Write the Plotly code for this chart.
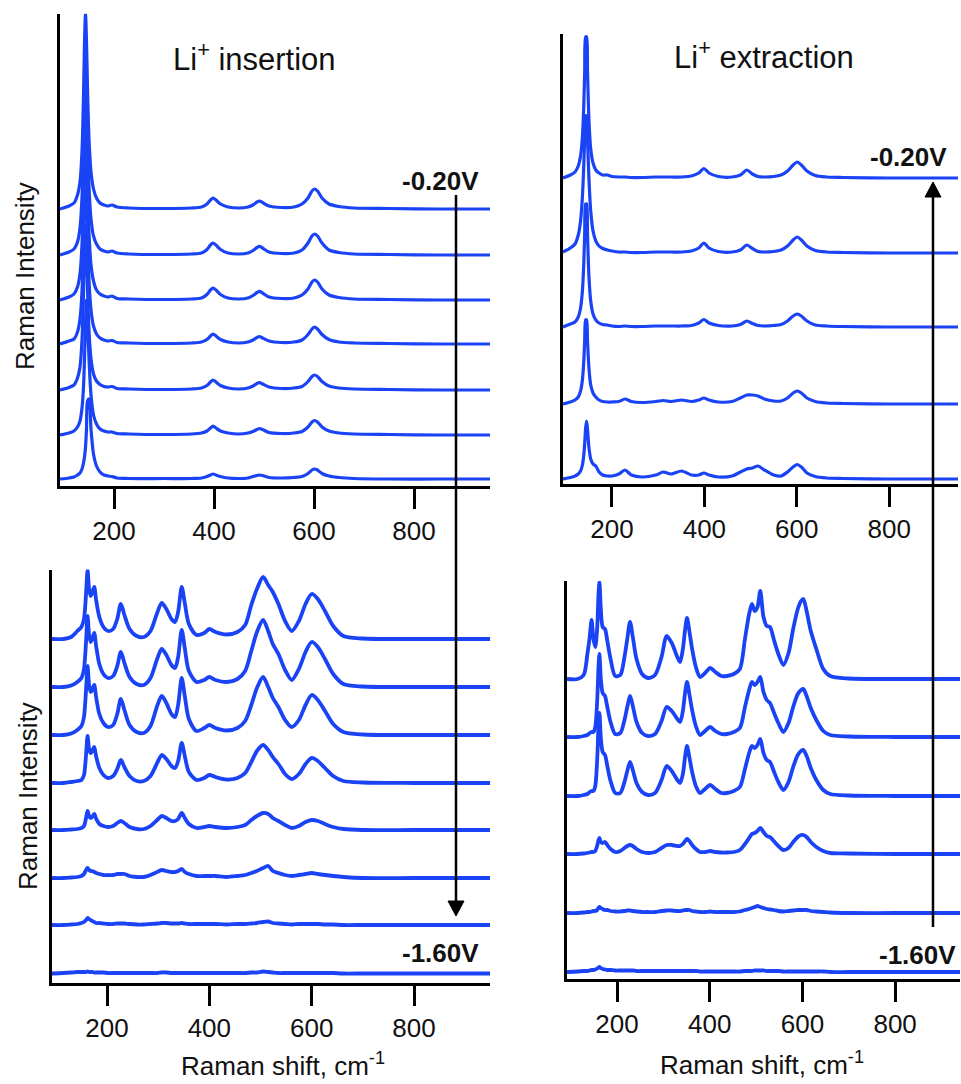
import plotly.graph_objects as go

W, H = 961, 1084
BLUE = '#1a43f5'
FONT = 'Liberation Sans, Arial, sans-serif'

# ---------------- Top-left: Li+ insertion (upper part) ----------------
TL_POT = ['-0.20 V', '-0.30 V', '-0.40 V', '-0.50 V', '-0.60 V', '-0.70 V', '-0.80 V']
TL_X = [92, 110, 120, 127, 132, 136, 139, 141, 143, 145, 147, 150, 154, 159, 165, 172, 180, 188, 196, 206,
        230, 300, 355, 375, 386, 393, 398, 404, 413, 428, 450, 468, 478, 486, 491, 497, 510, 535, 560, 576,
        588, 596, 601, 607, 616, 630, 650, 680, 750, 850, 952]
TL_OFF = [277, 231, 186, 142, 96, 51, 7]
TL_I = [
    [0, 3, 6, 14, 27, 58, 113, 166, 195, 168, 121, 70, 37, 20, 11, 6, 4, 3, 4, 2,
     1, 0.5, 1, 2, 5, 9, 11, 9, 5, 2, 1, 2, 4, 7, 8, 6.5, 3, 1.5, 2, 5, 11, 18, 20, 18, 11, 5, 2.5, 1, 0.5, 0, 0],
    [0, 3, 6, 13, 27, 58, 111, 163, 192, 165, 119, 69, 36, 19, 11, 6, 4, 3, 4, 2,
     1, 0.5, 1, 2, 5.5, 10, 12, 10, 5.5, 2, 1, 2, 4.5, 7.5, 8.6, 7, 3, 1.5, 2, 5, 12, 19, 21, 19, 12, 5, 2.5, 1, 0.5, 0, 0],
    [0, 3, 6, 13, 26, 56, 108, 158, 186, 160, 115, 67, 35, 19, 10, 6, 4, 3, 4, 1.5,
     1, 0.5, 1, 2, 5.5, 10, 12, 10, 5.5, 2, 1, 2, 4.5, 7.5, 8.6, 7, 3, 1.5, 2, 5, 11, 18, 20, 18, 11, 5, 2.5, 1, 0.5, 0, 0],
    [0, 3, 5, 12, 25, 53, 103, 151, 178, 153, 110, 64, 34, 18, 10, 6, 4, 3, 3.5, 1.5,
     1, 0.5, 1, 2, 4.5, 8, 10, 8, 4.5, 2, 1, 2, 4, 6.5, 7.5, 6, 3, 1.5, 2, 4, 9.5, 15, 17, 15, 9.5, 4.5, 2, 1, 0.5, 0, 0],
    [0, 2.5, 5, 12, 23, 50, 96, 140, 165, 142, 102, 59, 31, 16, 9, 5.5, 3.5, 3, 3.5, 1.5,
     1, 0.5, 1, 2, 4.5, 8, 10, 8, 4.5, 2, 1, 2, 4, 6.5, 7.5, 6, 3, 1.5, 2, 3.5, 8.5, 13.5, 15, 13.5, 8.5, 4, 2, 1, 0.5, 0, 0],
    [0, 2, 4, 8, 14, 27, 48, 76, 112, 135, 116, 76, 40, 20, 11, 6, 4, 3, 3, 1.5,
     1, 0.5, 1, 2, 4, 7, 9, 7, 4, 2, 1, 2, 3.5, 5.5, 6.5, 5.5, 2.5, 1.5, 2, 3.5, 8, 13, 14.5, 13, 8, 4, 2, 1, 0.5, 0, 0],
    [0, 1, 2, 4, 6, 10, 16, 22, 32, 50, 78, 80, 50, 25, 13, 7, 4, 3, 2.5, 1,
     0.5, 0.5, 0.5, 1, 2.5, 4, 5, 4, 2.5, 1, 0.5, 1, 2.5, 3.5, 4, 3.5, 1.5, 1, 1.5, 2.5, 5.5, 9, 10, 9, 5.5, 3, 1.5, 0.5, 0, 0, 0],
]

# ---------------- Top-right: Li+ extraction (upper part) ----------------
TR_POT = ['-0.20 V', '-0.34 V', '-0.48 V', '-0.62 V', '-0.76 V']
TR_X = [94, 110, 120, 127, 132, 136, 139, 141, 143, 145, 147, 150, 154, 159, 165, 172, 180, 190, 200, 215,
        228, 242, 265, 295, 311, 328, 351, 372, 388, 399, 410, 430, 460, 478, 492, 504, 516, 530, 550, 566,
        580, 592, 601, 610, 622, 640, 665, 700, 800, 949]
TR_OFF = [306, 231, 157, 80, 5]
TR_I = [
    [0, 3, 6, 12, 22, 41, 73, 108, 141, 141, 108, 60, 29, 15, 8, 5, 3, 3, 1.5, 1,
     1, 0.5, 0.5, 1, 1, 1, 1, 2, 5, 9.5, 5, 1.5, 1, 3, 8, 4, 1.5, 1, 1.5, 3, 7, 13, 16, 13, 7, 2.5, 1, 0.5, 0, 0],
    [1, 5, 9, 18, 32, 56, 88, 115, 137, 137, 115, 76, 42, 22, 12, 7, 4.5, 3, 2, 1,
     1, 0.5, 0.5, 1, 1, 1, 1, 2, 5, 10, 5, 1.5, 1, 3, 8, 4.5, 1.5, 1, 1.5, 3, 7, 13, 16, 13, 7, 2.5, 1, 0.5, 0, 0],
    [0, 3, 5, 10, 19, 36, 64, 94, 123, 123, 94, 52, 26, 13, 7, 4, 2.5, 2, 1, 0.5,
     1, 0.5, 0.5, 1, 1, 1, 1, 1.5, 4, 7.5, 4, 1.5, 1, 2.5, 6, 3.5, 1.5, 1, 1.5, 2.5, 6, 11, 13, 11, 6, 2, 1, 0.5, 0, 0],
    [0, 2, 4, 7, 13, 24, 43, 64, 84, 84, 64, 37, 19, 11, 7, 4, 2.5, 2, 2, 2.5,
     5, 2.5, 1.5, 2.5, 3.5, 2.5, 4, 2.5, 4, 6, 4, 2, 2.5, 6, 9, 9, 8, 5, 3, 3, 6, 11, 13, 11, 6, 2.5, 1, 0.5, 0, 0],
    [0, 1.5, 3, 5, 8, 14, 24, 36, 51, 58, 50, 32, 20, 15, 13, 7, 4, 3, 3, 5,
     9, 4, 2, 4, 7, 5, 8, 4, 4, 6, 4, 2, 3, 7, 10, 11, 13, 9, 4, 3, 7, 12, 14.5, 12, 6, 2.5, 1, 0.5, 0, 0],
]

# ---------------- Bottom-left: Li+ insertion (lower part) ----------------
BL_POT = ['-0.90 V', '-1.00 V', '-1.10 V', '-1.20 V', '-1.30 V', '-1.40 V', '-1.50 V', '-1.60 V']
BL_X = [92, 115, 130, 142, 150, 155, 159, 162, 165, 168, 171, 175, 179, 185, 193, 202, 212, 220, 227, 234,
        244, 258, 272, 285, 298, 307, 316, 326, 333, 339, 346, 352, 360, 375, 390, 400, 412, 434, 455, 470,
        482, 493, 505, 515, 524, 535, 548, 561, 575, 588, 600, 612, 626, 642, 662, 700, 800, 949]
BL_OFF = [344, 296, 248, 200, 153, 105, 58, 9.5]
BL_I = [
    [0, 0, 2, 8, 12, 20, 45, 69, 50, 43, 46, 52, 38, 22, 12, 8, 10, 20, 35, 24,
     10, 3, 2, 8, 26, 36, 30, 20, 17, 27, 52, 36, 15, 4, 6, 10, 7, 4.5, 7, 14,
     34, 50, 62, 54, 47, 35, 18, 8, 18, 35, 45, 40, 28, 13, 3, 0.5, 0, 0],
    [0, 0, 1.5, 5, 9, 18, 45, 71, 52, 45, 48, 54, 40, 23, 13, 9, 11, 21, 35, 24,
     10, 3, 2, 9, 28, 38, 32, 22, 19, 30, 57, 39, 16, 5, 7, 10, 7, 5, 8, 16,
     36, 55, 67, 56, 43, 33, 17, 7, 18, 35, 45, 40, 28, 13, 3, 0.5, 0, 0],
    [0, 0, 1.5, 5, 9, 18, 45, 69, 50, 43, 45, 50, 37, 21, 12, 8, 10, 21, 36, 25,
     10, 3, 2, 9, 29, 39, 32, 21, 18, 30, 57, 39, 16, 4, 7, 10, 7, 4.5, 7, 14,
     30, 47, 58, 48, 37, 28, 15, 8, 15, 30, 40, 35, 24, 11, 3, 0.5, 0, 0],
    [0, 0, 1, 2, 3, 8, 28, 47, 34, 30, 32, 36, 26, 15, 8, 5, 7, 14, 23, 16,
     7, 2, 2, 7, 20, 28, 24, 17, 15, 22, 40, 27, 11, 3, 5, 8, 6, 3.5, 5, 10,
     21, 32, 38, 33, 26, 19, 9, 4, 9, 19, 25, 22, 15, 7, 2, 0.5, 0, 0],
    [0, 0, 0.5, 1, 2, 4, 12, 19, 14, 12, 13, 16, 11, 6, 4, 3, 4, 7, 9, 7,
     3, 1, 1, 4, 10, 14, 12, 9, 9, 11, 17, 12, 6, 2, 3, 4, 3, 2, 3, 5,
     10, 14, 17, 16, 12, 9, 5, 2, 4, 8, 10, 9, 6, 3, 1, 0, 0, 0],
    [0, 0, 0.5, 1, 2, 4, 8, 10, 8, 7, 7, 6, 5, 4, 3, 3, 3, 4, 4, 4,
     2, 1, 1, 3, 6, 8, 7, 6, 6, 7, 9, 6, 4, 2, 2, 2, 2, 1, 2, 3,
     5, 7, 10, 12, 7, 5, 3, 2, 3, 4, 5, 4, 3, 2, 1, 0, 0, 0],
    [0, 0, 0.5, 1, 2, 3, 5, 7, 6, 5, 4, 3, 2, 2, 1.5, 1, 1, 1.5, 1.5, 1.5,
     1, 0.5, 0.5, 1, 1.5, 2, 2, 1.5, 1.5, 1.5, 2, 1.5, 1, 1, 1, 1, 1, 0.5, 1, 1,
     1.5, 2, 3, 3.5, 2, 1.5, 1, 0.5, 1, 1, 1, 1, 0.5, 0.5, 0, 0, 0, 0],
    [0, 0.5, 1, 1.5, 1.5, 1.5, 1.5, 2, 1.5, 1.5, 1.5, 1, 1, 1, 1, 0.5, 0.5, 0.5, 0.5, 0.5,
     0.5, 0.5, 0.5, 0.5, 0.5, 1, 1, 0.5, 0.5, 0.5, 0.5, 0.5, 0.5, 0.5, 0.5, 0.5, 0.5, 0.5, 0.5, 0.5,
     1, 1, 2, 1.5, 1, 0.5, 0.5, 0.5, 0.5, 0.5, 0.5, 0.5, 0.5, 0.5, 0, 0, 0, 0],
]

# ---------------- Bottom-right: Li+ extraction (lower part) ----------------
BR_POT = ['-0.90 V', '-1.04 V', '-1.18 V', '-1.32 V', '-1.46 V', '-1.60 V']
BR_X = [92, 115, 128, 136, 141, 145, 149, 153, 157, 160, 162, 165, 169, 174, 179, 186, 196, 207, 216, 222,
        228, 234, 242, 254, 267, 282, 296, 307, 318, 330, 336, 342, 347, 351, 356, 362, 370, 379, 390, 401,
        412, 425, 437, 452, 465, 476, 485, 491, 497, 503, 509, 516, 523, 530, 538, 548, 559, 570, 580, 590,
        597, 602, 609, 618, 630, 645, 660, 700, 800, 940]
BR_OFF = [300, 242, 183, 125, 66, 7]
BR_I = [
    [0, 0, 4, 25, 42, 59, 40, 32, 50, 85, 97, 70, 52, 50, 38, 20, 3, 4, 22, 40,
     57, 42, 20, 5, 1, 4, 22, 43, 36, 22, 17, 30, 50, 61, 48, 30, 12, 2, 6, 11,
     7, 3, 3, 5, 10, 40, 65, 75, 68, 72, 88, 62, 53, 52, 40, 25, 14, 26, 50, 70,
     78, 80, 68, 48, 30, 10, 3, 0.5, 0, 0],
    [0, 0, 1, 2, 4, 5, 5, 10, 35, 70, 83, 58, 44, 41, 30, 15, 3, 4, 17, 30,
     41, 31, 15, 4, 1, 3, 16, 30, 26, 18, 15, 26, 45, 55, 43, 27, 11, 2, 6, 10,
     6, 3, 3, 5, 9, 30, 47, 55, 52, 55, 60, 45, 37, 34, 25, 14, 5, 14, 30, 43,
     47, 48, 41, 29, 17, 6, 2, 0.5, 0, 0],
    [0, 0, 1, 2, 4, 5, 5, 10, 35, 70, 83, 58, 44, 41, 30, 15, 3, 3, 14, 25,
     34, 26, 13, 4, 1, 3, 16, 30, 25, 16, 13, 22, 40, 50, 39, 24, 10, 3, 7, 11,
     7, 3, 3, 5, 9, 27, 43, 50, 48, 51, 57, 43, 36, 34, 25, 14, 6, 14, 29, 41,
     45, 46, 40, 28, 16, 6, 2, 0.5, 0, 0],
    [0, 0, 0.5, 1, 1.5, 2, 2, 3, 8, 14, 16, 12, 11, 12, 9, 5, 2, 3, 6, 8,
     9, 8, 5, 2, 1, 2, 6, 9, 9, 8, 8, 10, 13, 15, 13, 9, 5, 2, 2, 3,
     2, 1.5, 1.5, 2, 4, 10, 16, 20, 21, 23, 26, 22, 18, 17, 13, 8, 4, 6, 12, 17,
     19, 19, 17, 12, 7, 3, 1, 0.5, 0, 0],
    [0, 0, 0.5, 1, 1, 1.5, 2, 2, 3, 5, 6, 5, 4, 3, 3, 2, 1.5, 1.5, 2, 2.5,
     2.5, 2, 1.5, 1, 1, 1, 2, 2.5, 2.5, 2, 2, 2.5, 3, 3, 3, 2, 1.5, 1, 1, 1.5,
     1, 1, 1, 1, 1.5, 3, 4, 5, 6, 7, 6, 5, 4, 3.5, 3, 2, 1.5, 2, 2.5, 3,
     3, 3, 3, 2, 1.5, 1, 0.5, 0, 0, 0],
    [0, 0.5, 1, 1, 1.5, 2, 2, 2.5, 3.5, 4.5, 5, 4, 3, 2.5, 2, 2, 1.5, 1.5, 1.5, 1.5,
     1.5, 1.5, 1, 1, 1, 1, 1, 1, 1, 1, 1, 1, 1, 1, 1, 1, 1, 0.5, 0.5, 0.5,
     0.5, 0.5, 0.5, 0.5, 0.5, 1, 1, 1, 1.5, 1.5, 1.5, 1.5, 1, 1, 1, 1, 0.5, 0.5, 0.5, 0.5,
     0.5, 0.5, 0.5, 0.5, 0.5, 0.5, 0, 0, 0, 0],
]

X_TICKS = [200, 400, 600, 800]

# panel geometry (pixels): left, right, top, bottom ; x range
PANELS = {
    'TL': dict(px=(60, 490), py=(13.8, 486), xr=(92, 952)),
    'TR': dict(px=(563, 958), py=(34, 484), xr=(94, 949)),
    'BL': dict(px=(52, 490), py=(569.5, 983), xr=(92.5, 948.5)),
    'BR': dict(px=(567, 960), py=(581, 979), xr=(92, 940)),
}
DATA = {
    'TL': (TL_X, TL_OFF, TL_I, TL_POT, 3.2),
    'TR': (TR_X, TR_OFF, TR_I, TR_POT, 3.2),
    'BL': (BL_X, BL_OFF, BL_I, BL_POT, 3.8),
    'BR': (BR_X, BR_OFF, BR_I, BR_POT, 3.8),
}

fig = go.Figure()
layout = dict(width=W, height=H, margin=dict(l=0, r=0, t=0, b=0),
              paper_bgcolor='white', plot_bgcolor='white', showlegend=False)

for k, key in enumerate(['TL', 'TR', 'BL', 'BR']):
    p = PANELS[key]
    xs, offs, ints, pots, lw = DATA[key]
    n = '' if k == 0 else str(k + 1)
    for off, iv, pot in zip(offs, ints, pots):
        assert len(iv) == len(xs), (key, pot, len(iv), len(xs))
        fig.add_trace(go.Scatter(
            x=xs, y=[off + v for v in iv], mode='lines', name=pot,
            line=dict(color=BLUE, width=lw, shape='spline', smoothing=0.8),
            xaxis='x' + n, yaxis='y' + n, hoverinfo='skip'))
    ytop = p['py'][1] - p['py'][0]
    layout['xaxis' + n] = dict(
        domain=[p['px'][0] / W, p['px'][1] / W], range=list(p['xr']), anchor='y' + n,
        showline=True, linecolor='black', linewidth=2.5, ticks='outside', ticklen=20,
        tickwidth=2.5, tickcolor='black', tickvals=X_TICKS, showgrid=False, zeroline=False,
        tickfont=dict(family=FONT, size=26, color='#111'))
    layout['yaxis' + n] = dict(
        domain=[1 - p['py'][1] / H, 1 - p['py'][0] / H], range=[0, ytop], anchor='x' + n,
        showline=True, linecolor='black', linewidth=2.5, ticks='', showticklabels=False,
        showgrid=False, zeroline=False)


def ann(text, x, y, size=26, bold=False, angle=0, xanchor='center'):
    t = '<b>' + text + '</b>' if bold else text
    return dict(text=t, x=x / W, y=1 - y / H, xref='paper', yref='paper', showarrow=False,
                xanchor=xanchor, yanchor='middle', textangle=angle,
                font=dict(family=FONT, size=size, color='#111'))


annotations = [
    ann('Li<sup>+</sup> insertion', 255, 57, size=31),
    ann('Li<sup>+</sup> extraction', 764, 55, size=31),
    ann('-0.20V', 481, 181, bold=True, xanchor='right'),
    ann('-0.20V', 949, 157, bold=True, xanchor='right'),
    ann('-1.60V', 481, 953, bold=True, xanchor='right'),
    ann('-1.60V', 958, 955, bold=True, xanchor='right'),
    ann('Raman Intensity', 25, 276, angle=-90),
    ann('Raman Intensity', 28, 796, angle=-90),
    ann('Raman shift, cm<sup>-1</sup>', 283, 1064),
    ann('Raman shift, cm<sup>-1</sup>', 762, 1063),
]
layout['annotations'] = annotations


# arrows (potential-scan direction) drawn as a line plus a filled head
def px(x, y):
    return x / W, 1 - y / H


def arrow_shapes(x, y_tail, y_tip):
    d = 1 if y_tip > y_tail else -1
    head = 15
    base_y = y_tip - d * head
    x0, y0 = px(x, y_tail)
    x1, y1 = px(x, base_y)
    tx, ty = px(x, y_tip)
    lx, ly = px(x - 8, base_y)
    rx, ry = px(x + 8, base_y)
    return [
        dict(type='line', xref='paper', yref='paper', x0=x0, y0=y0, x1=x1, y1=y1,
             line=dict(color='black', width=2.5)),
        dict(type='path', xref='paper', yref='paper',
             path=f'M {tx} {ty} L {lx} {ly} L {rx} {ry} Z',
             fillcolor='black', line=dict(color='black', width=1)),
    ]


layout['shapes'] = arrow_shapes(456, 195, 916) + arrow_shapes(933, 927, 182)
fig.update_layout(**layout)
fig.write_html('out.html')
